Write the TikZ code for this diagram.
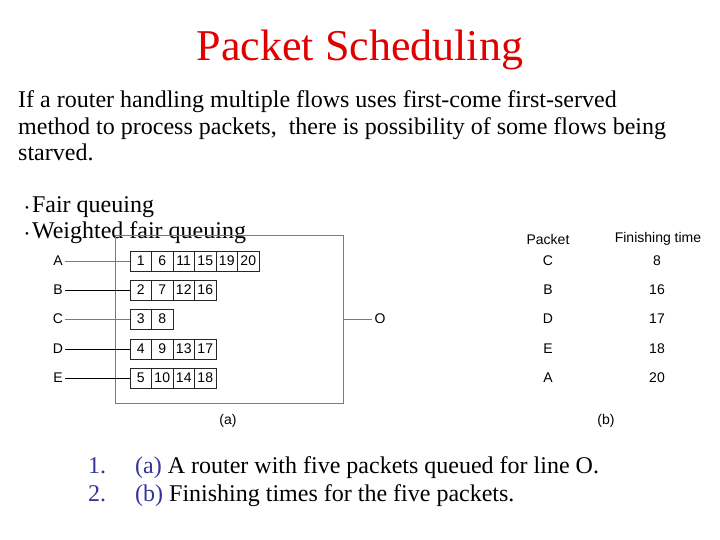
\documentclass[tikz,border=0pt]{standalone}
\usepackage{fontspec}
\setmainfont{Liberation Serif}
\newfontfamily\diagfont{Liberation Sans}
\usetikzlibrary{positioning}
\definecolor{Title}{HTML}{E00000}
\definecolor{Navy}{HTML}{333399}
\definecolor{Wire}{HTML}{7A7A7A}

\begin{document}
\begin{tikzpicture}[
  x=1pt, y=-1pt,
  slide/.style={anchor=base west, inner sep=0pt, font=\fontsize{24}{26}\selectfont},
  cell/.style={draw=black!85, line width=0.6pt, minimum width=21.5pt, minimum height=20pt, inner sep=0pt, font=\diagfont\fontsize{14}{14}\selectfont},
  diag/.style={inner sep=2pt, font=\diagfont\fontsize{14}{14}\selectfont},
  wire/.style={line width=0.7pt}
]
  \useasboundingbox (0,0) rectangle (720,540);
  \node[inner sep=0pt, anchor=base, text=Title, font=\fontsize{44}{44}\selectfont] (title) at (360,61) {Packet Scheduling};
  \node[slide] (intro1) at (18,108) {If a router handling multiple flows uses first-come first-served};
  \node[slide] (intro2) at (18,134.5) {method to process packets,\ \ there is possibility of some flows being};
  \node[slide] (intro3) at (18,161) {starved.};
  \node[slide] (fq) at (25,212) {\raisebox{1pt}{\fontsize{11}{11}\selectfont\textbullet}\hspace{3pt}Fair queuing};
  \node[slide] (wfq) at (25,238) {\raisebox{1pt}{\fontsize{11}{11}\selectfont\textbullet}\hspace{3pt}Weighted fair queuing};

  % router with the five queues
  \node[draw=Wire, line width=0.8pt, minimum width=228pt, minimum height=168pt, inner sep=0pt] (router) at (229,319) {};
  \foreach \flow/\ypos/\tone/\cells in {A/261/Wire/{1,6,11,15,19,20}, B/290/black/{2,7,12,16}, C/319/Wire/{3,8}, D/349/black/{4,9,13,17}, E/378/black/{5,10,14,18}} {
    \node[diag] (\flow) at (58,\ypos) {\flow};
    \foreach \num [count=\i] in \cells
      \node[cell] (\flow\i) at ({140.75+(\i-1)*21.5},\ypos) {\num};
    \draw[wire, draw=\tone] (\flow) -- (\flow1);
  }
  \node[diag] (out) at (380,319) {O};
  \draw[wire, draw=Wire] (router.east) -- (out);
  \node[diag] (capa) at (228,421) {(a)};

  % finishing times
  \node[diag] (pkt) at (548,239) {Packet};
  \node[diag] (fin) at (658,239) {Finishing time};
  \foreach \name/\time/\ypos in {C/8/261, B/16/290, D/17/319, E/18/349, A/20/378} {
    \node[diag] (p\name) at (548,\ypos) {\name};
    \node[diag] (t\name) at (657,\ypos) {\time};
  }
  \node[diag] (capb) at (606,421) {(b)};

  % captions
  \node[slide, text=Navy] (n1) at (88,473) {1.};
  \node[slide] (cap1) at (135,473) {\textcolor{Navy}{(a)} A router with five packets queued for line O.};
  \node[slide, text=Navy] (n2) at (88,501) {2.};
  \node[slide] (cap2) at (135,501) {\textcolor{Navy}{(b)} Finishing times for the five packets.};
\end{tikzpicture}
\end{document}
